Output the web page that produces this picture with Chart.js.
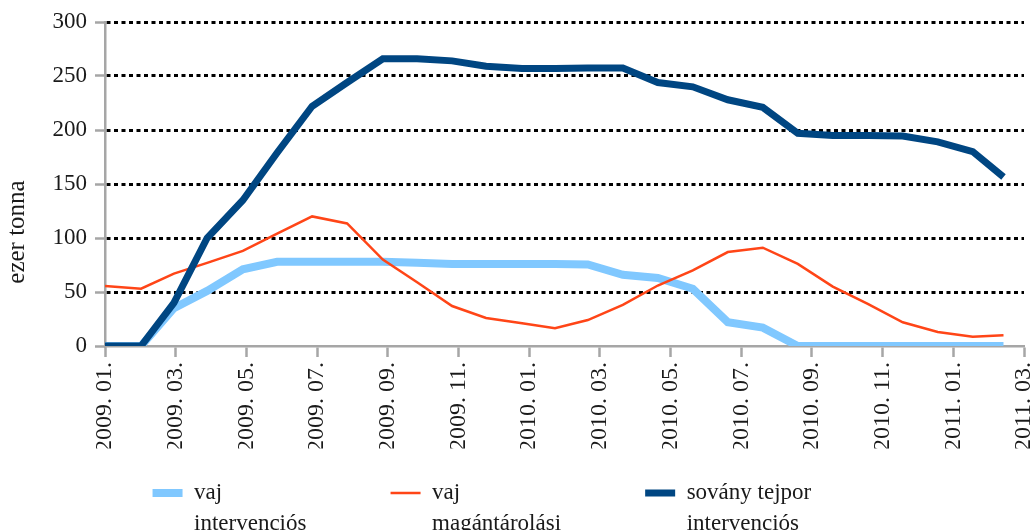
<!DOCTYPE html>
<html>
<head>
<meta charset="utf-8">
<script src="https://cdn.jsdelivr.net/npm/chart.js@4.4.1/dist/chart.umd.min.js"></script>
<style>
  html, body { margin: 0; padding: 0; background: #fff; overflow: hidden; }
  #doboz { width: 1035px; height: 530px; }
</style>
</head>
<body>
<div id="doboz"><canvas id="grafikon"></canvas></div>
<script>
// honapok 2009. 01.-tol (a pontok helye a kepről leolvasva)
const idopont = [0, 1.02, 1.95, 2.89, 3.9, 4.87, 5.86, 6.85, 7.86, 8.83, 9.82, 10.78, 11.8, 12.73,
  13.66, 14.65, 15.64, 16.63, 17.62, 18.61, 19.6, 20.59, 21.58, 22.57, 23.56, 24.55, 25.42];

const vajIntervencios = [0, 0, 35, 51, 71, 78, 78, 78, 78, 77, 76, 76, 76, 76,
  75.5, 66, 63, 53, 22, 17, 0, 0, 0, 0, 0, 0, 0];
const vajMagantarolasi = [55.5, 53, 67, 77, 88, 104, 120, 113.5, 80, 59, 37, 26, 21, 16.5,
  24, 38, 56, 70, 87, 91, 76, 55, 39, 22, 13, 8.5, 10];
const sovanyTejpor = [0, 0, 40, 100, 135, 179, 222, 244, 266, 266, 264, 259, 257, 257,
  257.5, 257.5, 244, 240, 228, 221, 197, 195, 195, 194.5, 189, 180, 156.5];

const honapCimkek = ['2009. 01.', '2009. 03.', '2009. 05.', '2009. 07.', '2009. 09.', '2009. 11.',
  '2010. 01.', '2010. 03.', '2010. 05.', '2010. 07.', '2010. 09.', '2010. 11.', '2011. 01.', '2011. 03.'];

// a legenda ket soros; a zaro szokozok a tetelek kozti helyet adjak
const legendSorok = [['vaj', 'intervenciós   '], ['vaj', 'magántárolási   '], ['sovány tejpor', 'intervenciós']];

const betu = 'Liberation Serif';
const szurke = '#A6A6A6';

function pontok(ertekek) {
  return ertekek.map((v, i) => ({ x: idopont[i], y: v }));
}

const tengelyCim = {
  id: 'tengelyCim',
  afterDraw(chart) {
    const { ctx, chartArea } = chart;
    ctx.save();
    ctx.translate(17, chartArea.bottom - 114);
    ctx.rotate(-Math.PI / 2);
    ctx.font = '25px "' + betu + '"';
    ctx.fillStyle = '#1a1a1a';
    ctx.textAlign = 'center';
    ctx.textBaseline = 'middle';
    ctx.fillText('ezer tonna', 0, 0);
    ctx.restore();
  }
};

// a legenda dobozat lejjebb nyujtjuk, hogy a masodik sor ne vagodjon le
const legendaMagassag = {
  id: 'legendaMagassag',
  beforeLayout(chart) {
    const lg = chart.legend;
    if (lg && !lg._nyujtva) {
      const eredeti = lg.fit;
      lg.fit = function () { eredeti.call(this); this.height += 15.5; };
      lg._nyujtva = true;
    }
  }
};

const ctx = document.getElementById('grafikon').getContext('2d');
new Chart(ctx, {
  type: 'line',
  data: {
    datasets: [
      {
        label: 'vaj intervenciós',
        data: pontok(vajIntervencios),
        borderColor: '#80C8FF',
        backgroundColor: '#80C8FF',
        borderWidth: 8,
        order: 3
      },
      {
        label: 'vaj magántárolási',
        data: pontok(vajMagantarolasi),
        borderColor: '#FF4517',
        backgroundColor: '#FF4517',
        borderWidth: 2.5,
        order: 2
      },
      {
        label: 'sovány tejpor intervenciós',
        data: pontok(sovanyTejpor),
        borderColor: '#004682',
        backgroundColor: '#004682',
        borderWidth: 7,
        order: 1
      }
    ]
  },
  options: {
    responsive: true,
    maintainAspectRatio: false,
    animation: false,
    layout: { padding: { top: 22, right: 0, bottom: 0, left: 46 } },
    elements: {
      point: { radius: 0, hoverRadius: 0 },
      line: { tension: 0, borderJoinStyle: 'miter', borderCapStyle: 'butt' }
    },
    scales: {
      x: {
        type: 'linear',
        min: 0,
        max: 26,
        afterFit: (s) => { s.paddingRight = 11; s.height = 102.5; },
        border: { color: szurke, width: 2.5 },
        grid: { drawOnChartArea: false, tickColor: szurke, tickLength: 11, tickWidth: 2.5 },
        ticks: {
          stepSize: 2,
          autoSkip: false,
          maxRotation: 90,
          minRotation: 90,
          padding: 5,
          color: '#1a1a1a',
          font: { family: betu, size: 24 },
          callback: (v) => honapCimkek[v / 2]
        }
      },
      y: {
        min: 0,
        max: 300,
        afterFit: (s) => { s.width = 59; },
        border: { color: szurke, width: 2.5, dash: [4, 3.5] },
        grid: {
          color: (c) => (c.tick && c.tick.value === 0 ? 'rgba(0,0,0,0)' : '#000'),
          lineWidth: 3,
          tickColor: szurke,
          tickLength: 10,
          tickWidth: 2.5,
          tickBorderDash: []
        },
        ticks: {
          stepSize: 50,
          padding: 8,
          color: '#1a1a1a',
          font: { family: betu, size: 23 }
        }
      }
    },
    plugins: {
      tooltip: { enabled: false },
      legend: {
        position: 'bottom',
        labels: {
          usePointStyle: true,
          pointStyle: 'line',
          pointStyleWidth: 30,
          padding: 33,
          color: '#1a1a1a',
          font: { family: betu, size: 23, lineHeight: 1.35 },
          sort: (a, b) => a.datasetIndex - b.datasetIndex,
          generateLabels: (chart) => {
            const alap = Chart.defaults.plugins.legend.labels.generateLabels(chart);
            return alap.map((elem) => Object.assign(elem, { text: legendSorok[elem.datasetIndex] }));
          }
        }
      }
    }
  },
  plugins: [tengelyCim, legendaMagassag]
});
</script>
</body>
</html>
